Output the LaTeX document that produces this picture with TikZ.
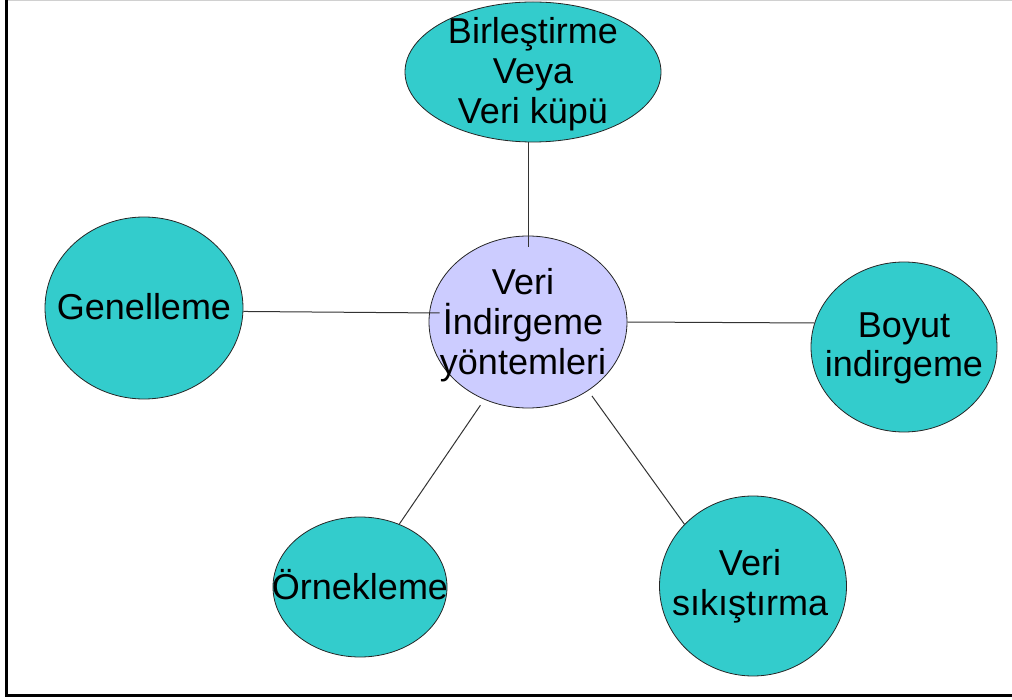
\documentclass[tikz,border=0pt]{standalone}
\usepackage{fontspec}
\setmainfont{Liberation Sans}
\usetikzlibrary{shapes.geometric}
\definecolor{bubblefill}{HTML}{33CCCC}
\definecolor{hubfill}{HTML}{CCCCFF}
\definecolor{rimgray}{HTML}{D0D0D0}
\begin{document}
\begin{tikzpicture}[x=1pt,y=-1pt,
  bubble/.style={ellipse,draw=black!85,line width=0.8pt,fill=bubblefill,inner sep=0pt},
  hub/.style={bubble,fill=hubfill},
  caption/.style={font=\fontsize{36}{40}\selectfont,align=center,inner sep=0pt,text=black},
  link/.style={draw=black!80,line width=1pt}]
\useasboundingbox (0,0) rectangle (1012,700);

% page frame
\draw[rimgray,line width=1.5pt] (6,0.75) -- (1012,0.75);
\draw[line width=3pt,line join=miter] (6.5,0) -- (6.5,695.5) -- (1012,695.5);

% central topic
\node[hub,minimum width=198,minimum height=172,
  label={[caption,xshift=-5pt,yshift=-3pt]center:{Veri\\İndirgeme\\yöntemleri}}] (hub) at (528,322) {};

% methods around it
\node[bubble,minimum width=256,minimum height=140,
  label={[caption,yshift=-2pt]center:{Birleştirme\\Veya\\Veri küpü}}] (agg) at (533,72) {};
\node[bubble,minimum width=198,minimum height=182,
  label={[caption,yshift=1pt]center:{Genelleme}}] (gen) at (144,308) {};
\node[bubble,minimum width=186,minimum height=170,
  label={[caption,yshift=-1pt,font=\fontsize{36}{39}\selectfont]center:{Boyut\\indirgeme}}] (dim) at (904,347) {};
\node[bubble,minimum width=174,minimum height=140,
  label={[caption,yshift=2pt]center:{Örnekleme}}] (smp) at (360,587) {};
\node[bubble,minimum width=187,minimum height=180,
  label={[caption,xshift=-3pt]center:{Veri\\sıkıştırma}}] (cmp) at (753,586) {};

% connectors
\draw[link] (hub.north |- agg.south) -- ([yshift=-11pt]hub.north);
\draw[link] (gen.-2.9) -- ([shift={(11pt,9pt)}]hub.west);
\draw[link] (hub.east) -- (dim.165);
\draw[link] (smp.58) -- ([shift={(-3pt,-6pt)}]hub.240);
\draw[link] (cmp.138) -- ([shift={(4pt,-5pt)}]hub.311);
\end{tikzpicture}
\end{document}
